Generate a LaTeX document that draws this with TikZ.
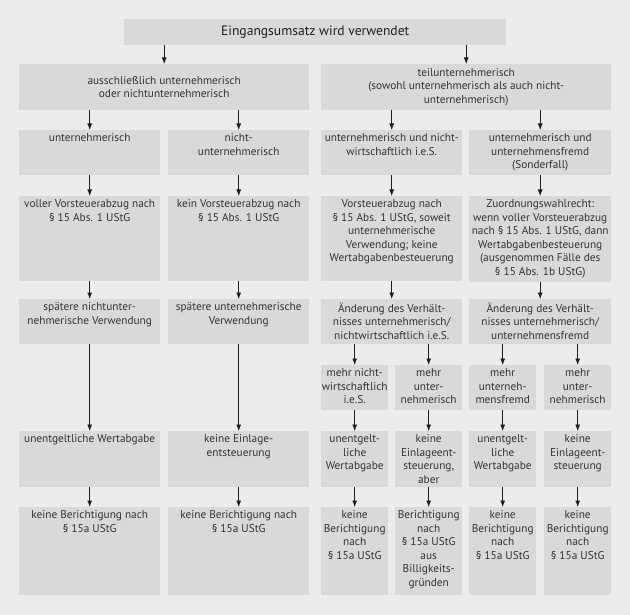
\documentclass[tikz,border=0pt]{standalone}
\usepackage{fontspec}
\setmainfont{PT Sans}
\usetikzlibrary{arrows.meta}
\definecolor{bgc}{HTML}{ECECEC}
\definecolor{boxc}{HTML}{D9D9D9}
\definecolor{txtc}{HTML}{333333}
\definecolor{arrc}{HTML}{1E1E1E}
\tikzset{
  boxbg/.style={fill=boxc, draw=none, inner sep=0pt, anchor=north west},
  boxtxt/.style={text=txtc, align=center, inner sep=0pt, anchor=north,
    font=\fontsize{11.3}{13.5}\selectfont},
  arr/.style={draw=arrc, line width=0.8pt, -{Latex[length=6.5pt,width=5pt]}},
}
% \bx{name}{x1}{y1}{x2}{y2}{text}  (top-aligned text)
\newcommand\bx[6]{%
  \pgfmathsetmacro\bw{#4-#2}\pgfmathsetmacro\bh{#5-#3}%
  \node[boxbg, minimum width=\bw pt, minimum height=\bh pt] (#1) at (#2,#3) {};
  \node[boxtxt] (#1-t) at ([yshift=-3.4pt]#1.north) {#6};
}
% centered text
\newcommand\cbx[6]{%
  \pgfmathsetmacro\bw{#4-#2}\pgfmathsetmacro\bh{#5-#3}%
  \node[boxbg, minimum width=\bw pt, minimum height=\bh pt] (#1) at (#2,#3) {};
  \node[boxtxt, anchor=center] (#1-t) at (#1.center) {#6};
}
\begin{document}
\begin{tikzpicture}[x=1pt,y=-1pt]
\fill[bgc] (0,0) rectangle (630,615);
\useasboundingbox (0,0) rectangle (630,615);
% top
\node[boxbg, minimum width=382pt, minimum height=26pt] (top) at (124,19) {};
\node[text=black!88, font=\fontsize{13.6}{15}\selectfont, inner sep=0pt] (top-t) at (top.center) {Eingangsumsatz wird verwendet};
% level 2
\cbx{La}{19}{64}{309}{110}{ausschließlich unternehmerisch\\oder nichtunternehmerisch}
\cbx{Lb}{321}{64}{611}{110}{teilunternehmerisch\\(sowohl unternehmerisch als auch nicht-\\unternehmerisch)}
% level 3
\bx{a3}{19}{130}{160}{175}{unternehmerisch}
\bx{b3}{168}{130}{309}{175}{nicht-\\unternehmerisch}
\bx{c3}{321}{130}{462}{175}{unternehmerisch und nicht-\\wirtschaftlich i.e.S.}
\bx{d3}{469}{130}{611}{175}{unternehmerisch und\\unternehmensfremd\\(Sonderfall)}
% level 4
\bx{a4}{19}{196}{160}{281}{voller Vorsteuerabzug nach\\§ 15 Abs. 1 UStG}
\bx{b4}{168}{196}{309}{281}{kein Vorsteuerabzug nach\\§ 15 Abs. 1 UStG}
\bx{c4}{321}{196}{462}{281}{Vorsteuerabzug nach\\§ 15 Abs. 1 UStG, soweit\\unternehmerische\\Verwendung; keine\\Wertabgabenbesteuerung}
\bx{d4}{469}{196}{611}{282}{Zuordnungswahlrecht:\\wenn voller Vorsteuerabzug\\nach § 15 Abs. 1 UStG, dann\\Wertabgabenbesteuerung\\(ausgenommen Fälle des\\§ 15 Abs. 1b UStG)}
% level 5
\bx{a5}{19}{299}{160}{344}{spätere nichtunter-\\nehmerische Verwendung}
\bx{b5}{168}{299}{309}{344}{spätere unternehmerische\\Verwendung}
\bx{c5}{321}{299}{462}{344}{Änderung des Verhält-\\nisses unternehmerisch/\\nichtwirtschaftlich i.e.S.}
\bx{d5}{469}{299}{611}{344}{Änderung des Verhält-\\nisses unternehmerisch/\\unternehmensfremd}
% level 6 (small)
\bx{s1}{321}{365}{388}{410}{mehr nicht-\\wirtschaftlich\\i.e.S.}
\bx{s2}{395}{365}{462}{410}{mehr\\unter-\\nehmerisch}
\bx{s3}{469}{365}{536}{410}{mehr\\unterneh-\\mensfremd}
\bx{s4}{544}{365}{611}{410}{mehr\\unter-\\nehmerisch}
% level 7
\bx{a7}{19}{431}{160}{487}{unentgeltliche Wertabgabe}
\bx{b7}{168}{431}{309}{487}{keine Einlage-\\entsteuerung}
\bx{s1b}{321}{431}{388}{487}{unentgelt-\\liche\\Wertabgabe}
\bx{s2b}{395}{431}{462}{487}{keine\\Einlageent-\\steuerung,\\aber}
\bx{s3b}{469}{431}{536}{487}{unentgelt-\\liche\\Wertabgabe}
\bx{s4b}{544}{431}{611}{487}{keine\\Einlageent-\\steuerung}
% level 8
\bx{a8}{19}{507}{160}{595}{keine Berichtigung nach\\§ 15a UStG}
\bx{b8}{168}{507}{309}{595}{keine Berichtigung nach\\§ 15a UStG}
\bx{s1c}{321}{507}{388}{595}{keine\\Berichtigung\\nach\\§ 15a UStG}
\bx{s2c}{395}{507}{462}{595}{Berichtigung\\nach\\§ 15a UStG\\aus\\Billigkeits-\\gründen}
\bx{s3c}{469}{507}{536}{595}{keine\\Berichtigung\\nach\\§ 15a UStG}
\bx{s4c}{544}{507}{611}{595}{keine\\Berichtigung\\nach\\§ 15a UStG}
% arrows
\draw[arr] (top.south -| La.north) -- (La.north);
\draw[arr] (top.south -| Lb.north) -- (Lb.north);
\draw[arr] (La.south -| a3.north) -- (a3.north);
\draw[arr] (La.south -| b3.north) -- (b3.north);
\draw[arr] (Lb.south -| c3.north) -- (c3.north);
\draw[arr] (Lb.south -| d3.north) -- (d3.north);
\foreach \u/\v in {a3/a4,b3/b4,c3/c4,d3/d4,a4/a5,b4/b5,c4/c5,d4/d5,a5/a7,b5/b7,a7/a8,b7/b8,
  s1/s1b,s2/s2b,s3/s3b,s4/s4b,s1b/s1c,s2b/s2c,s3b/s3c,s4b/s4c}
  \draw[arr] (\u.south -| \v.north) -- (\v.north);
\draw[arr] (c5.south -| s1.north) -- (s1.north);
\draw[arr] (c5.south -| s2.north) -- (s2.north);
\draw[arr] (d5.south -| s3.north) -- (s3.north);
\draw[arr] (d5.south -| s4.north) -- (s4.north);
\end{tikzpicture}
\end{document}
